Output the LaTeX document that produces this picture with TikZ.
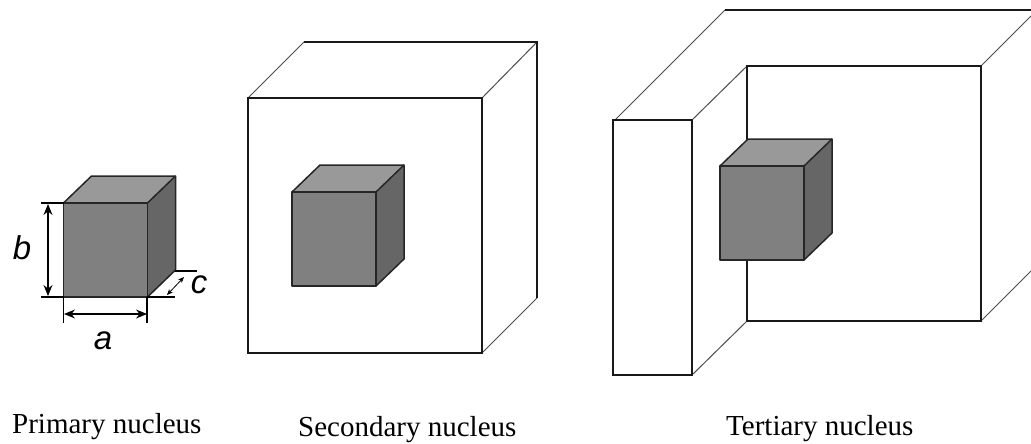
\documentclass[tikz,border=0pt]{standalone}
\usepackage{fontspec}
\usetikzlibrary{arrows.meta}
\setmainfont{Liberation Serif}
\newfontfamily\dimfont[ItalicFont={Liberation Sans Italic}]{Liberation Sans}
\definecolor{facefront}{HTML}{808080}
\definecolor{facetop}{HTML}{999999}
\definecolor{faceside}{HTML}{666666}
\tikzset{
  wall/.style={draw=black!90,line width=1.3pt,line join=miter},
  slant/.style={draw=black!70,line width=1pt},
  cubeedge/.style={draw=black!85,line width=1.5pt,line join=round},
  dimline/.style={draw=black,line width=1.1pt},
  dimarrow/.style={dimline,{Stealth[length=11pt,width=9pt]}-{Stealth[length=11pt,width=9pt]}},
  smallarrow/.style={draw=black,line width=.8pt,{Stealth[length=6pt,width=5pt]}-{Stealth[length=6pt,width=5pt]}},
  caption/.style={font=\fontsize{29}{33}\selectfont,anchor=base west,inner sep=0pt},
  dimlabel/.style={font=\dimfont\itshape\fontsize{33}{36}\selectfont,inner sep=0pt}
}
\begin{document}
\begin{tikzpicture}[x=1pt,y=-1pt]
\useasboundingbox (0,0) rectangle (1031,444);
% secondary nucleus
\draw[slant] (248,98) -- (304,42) (482,98) -- (537,42) (482,353) -- (537,298);
\draw[wall] (304,42) -- (537,42) -- (537,298);
\draw[wall] (248,98) rectangle (482,353);
% tertiary nucleus
\draw[slant] (615,120) -- (725,10) (692,120) -- (747,66) (692,375) -- (747,321)
  (981,66) -- (1031,16) (981,321) -- (1031,271);
\draw[wall] (725,10) -- (1031,10);
\draw[wall] (747,66) rectangle (981,321);
\draw[wall] (613,120) rectangle (692,375);
% the three grey cubes
\foreach \x/\y in {63.5/203,292/192,720/166} {
  \begin{scope}[shift={(\x,\y)}]
    \fill[facetop] (0,0) -- (28,-27) -- (112,-27) -- (84,0) -- cycle;
    \fill[faceside] (84,0) -- (112,-27) -- (112,67) -- (84,94) -- cycle;
    \fill[facefront] (0,0) rectangle (84,94);
    \draw[cubeedge] (0,0) -- (28,-27) -- (112,-27) -- (112,67) -- (84,94);
    \draw[cubeedge] (84,0) -- (112,-27);
    \draw[cubeedge] (0,0) rectangle (84,94);
  \end{scope}
}
% dimensions of the first cube
\coordinate (bhigh) at (48,204);
\coordinate (blow) at (48,296);
\coordinate (aleft) at (64,314);
\coordinate (aright) at (147,314);
\coordinate (cnear) at (167,295);
\coordinate (cfar) at (184,277);
\draw[dimline] (41,203) -- (64,203) (41,297) -- (64,297);
\draw[dimline] (63.5,297) -- (63.5,323) (147,297) -- (147,323);
\draw[dimline] (147,297) -- (175,297) (175,271) -- (197,271);
\draw[dimarrow] (bhigh) -- (blow);
\draw[dimarrow] (aleft) -- (aright);
\draw[smallarrow] (cnear) -- (cfar);
\node[dimlabel] (blabel) at (22,248) {b};
\node[dimlabel] (alabel) at (103,341) {a};
\node[dimlabel] (clabel) at (199,285) {c};
% captions
\node[caption] (primary) at (12,433) {Primary nucleus};
\node[caption] (secondary) at (298,436) {Secondary nucleus};
\node[caption] (tertiary) at (726,435) {Tertiary nucleus};
\end{tikzpicture}
\end{document}
